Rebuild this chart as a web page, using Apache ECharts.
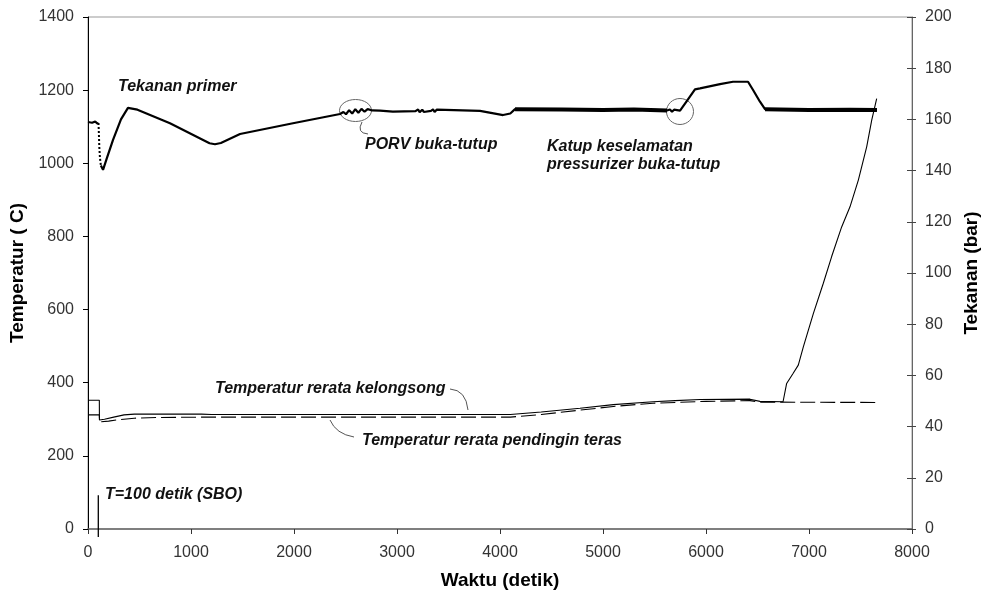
<!DOCTYPE html>
<html><head><meta charset="utf-8">
<script src="https://cdn.jsdelivr.net/npm/echarts@6/dist/echarts.min.js"></script>
<style>html,body{margin:0;padding:0;background:#fff}#c{width:982px;height:592px}</style>
</head><body><div id="c"></div>
<script>
// ---- data (time in s, temperature in °C, pressure in bar) ----
const timeRange = [0, 8000];
const tempRange = [0, 1400];
const pressureRange = [0, 200];

const pressureStart = [[0,159.0],[40,158.7],[70,159.2],[90,158.4],[102,158.6]];
const pressureDrop = [[102,158.6],[106,154],[110,149],[116,145],[125,142]];
const pressurePrimary = [[125,142],[146,140.3],[180,144.5],[243,152],[320,160],[388,164.5],[480,163.8],[796,158.5],[1180,150.7],[1233,150.3],[1290,150.8],[1476,154.3],[1990,158.5],[2447,162.1],[2480,162.9],[2505,162.0],[2535,163.6],[2565,162.3],[2595,164.0],[2625,162.6],[2655,164.1],[2685,163.0],[2715,164.0],[2760,163.5],[2835,163.4],[2960,163.0],[3180,163.2],[3205,163.9],[3220,162.8],[3245,163.8],[3260,162.9],[3330,163.3],[3350,163.9],[3365,162.9],[3385,163.8],[3400,163.2],[3806,163.3],[4030,161.7],[4100,162.3],[4146,164.0],[4600,163.9],[5000,163.7],[5300,163.9],[5621,163.5],[5650,163.9],[5670,163.0],[5690,163.8],[5748,163.4],[5820,167.5],[5893,171.7],[5942,172.1],[6136,173.8],[6262,174.7],[6408,174.7],[6457,171.5],[6524,166.9],[6573,164.0],[7000,163.7],[7400,163.8],[7660,163.7]];
const pressureNoisyA = [[4146,164.0],[4600,163.9],[5000,163.7],[5300,163.9],[5621,163.5]];
const pressureNoisyB = [[6573,164.0],[7000,163.7],[7400,163.8],[7660,163.7]];

const claddingTemp = [[0,352],[110,352],[111,298],[160,300],[250,306],[350,312],[450,314],[1100,314],[1200,313],[4100,313],[4400,320],[4777,330],[5100,340],[5486,348],[5700,351],[5942,354],[6427,355],[6524,349],[6748,348],[6783,398],[6845,425],[6896,448],[6945,498],[7042,589],[7139,672],[7220,745],[7317,826],[7398,881],[7479,954],[7560,1045],[7609,1118],[7657,1177]];
const coolantTemp = [[0,312],[110,312],[112,293],[200,295],[300,299],[450,303],[700,305],[1200,306],[4100,306],[4400,313],[4777,325],[5100,335],[5486,344],[6000,349],[6427,351],[6524,347],[7660,346]];
const sboMarker = [[100,-22],[100,92]];

const xTickStep = 1000, tempTickStep = 200, pressureTickStep = 20;

// ---- chart ----
const FONT = '"Liberation Sans", Arial, sans-serif';
const chart = echarts.init(document.getElementById('c'), null, {renderer:'canvas'});
const annFont = 'italic bold 16px ' + FONT;
const plain = v => String(v);

const lineSeries = (data, opts) => Object.assign({
  type:'line', data, symbol:'none', showSymbol:false, animation:false, silent:true,
  lineStyle:{color:'#000', width:1}
}, opts);

chart.setOption({
  backgroundColor:'#fff',
  animation:false,
  grid:{left:88, right:70, top:17, bottom:63, show:true, borderColor:'#999', borderWidth:1,
        containLabel:false, outerBoundsMode:'none'},
  xAxis:{
    type:'value', min:timeRange[0], max:timeRange[1], interval:xTickStep,
    name:'Waktu (detik)', nameLocation:'middle', nameGap:42,
    nameTextStyle:{fontFamily:FONT, fontWeight:'bold', fontSize:19, color:'#000'},
    axisLine:{show:true, lineStyle:{color:'#666', width:1.5}},
    axisTick:{show:true, length:5, lineStyle:{color:'#333'}},
    axisLabel:{fontFamily:FONT, fontSize:16, color:'#333', margin:16, formatter:plain},
    splitLine:{show:false}
  },
  yAxis:[{
    type:'value', min:tempRange[0], max:tempRange[1], interval:tempTickStep, position:'left',
    name:'Temperatur ( C)', nameLocation:'middle', nameGap:60, nameRotate:90,
    nameTextStyle:{fontFamily:FONT, fontWeight:'bold', fontSize:19, color:'#000'},
    axisLine:{show:true, lineStyle:{color:'#000', width:1}},
    axisTick:{show:true, length:5, lineStyle:{color:'#000'}},
    axisLabel:{fontFamily:FONT, fontSize:16, color:'#333', margin:14, formatter:plain},
    splitLine:{show:false}
  },{
    type:'value', min:pressureRange[0], max:pressureRange[1], interval:pressureTickStep, position:'right',
    name:'Tekanan (bar)', nameLocation:'middle', nameGap:47, nameRotate:90,
    nameTextStyle:{fontFamily:FONT, fontWeight:'bold', fontSize:19, color:'#000'},
    axisLine:{show:true, lineStyle:{color:'#666', width:1}},
    axisTick:{show:true, length:4, lineStyle:{color:'#444'}},
    axisLabel:{fontFamily:FONT, fontSize:16, color:'#333', margin:13, formatter:plain},
    splitLine:{show:false}
  },{
    type:'value', min:pressureRange[0], max:pressureRange[1], interval:pressureTickStep, position:'right',
    axisLine:{show:false}, axisLabel:{show:false},
    axisTick:{show:true, inside:true, length:5, lineStyle:{color:'#444'}},
    splitLine:{show:false}
  }],
  series:[
    lineSeries(coolantTemp, {name:'Temperatur rerata pendingin teras', yAxisIndex:0, lineStyle:{color:'#000', width:1.1, type:[15,5]}}),
    lineSeries(claddingTemp, {name:'Temperatur rerata kelongsong', yAxisIndex:0, lineStyle:{color:'#000', width:1.1}}),
    lineSeries(pressureStart, {name:'Tekanan primer', yAxisIndex:1, lineStyle:{color:'#000', width:2.2}}),
    lineSeries(pressureDrop, {name:'Tekanan primer', yAxisIndex:1, lineStyle:{color:'#000', width:2, type:[2,2]}}),
    lineSeries(pressurePrimary, {name:'Tekanan primer', yAxisIndex:1, lineStyle:{color:'#000', width:2.2}}),
    lineSeries(pressureNoisyA, {name:'Tekanan primer', yAxisIndex:1, lineStyle:{color:'#000', width:4}}),
    lineSeries(pressureNoisyB, {name:'Tekanan primer', yAxisIndex:1, lineStyle:{color:'#000', width:4}}),
    lineSeries(sboMarker, {name:'SBO', yAxisIndex:0, clip:false, lineStyle:{color:'#000', width:1.3}})
  ]
});

// ---- annotations (pixel layout) ----
const txt = (x, y, s) => ({type:'text', x, y, silent:true,
  style:{text:s, font:annFont, fill:'#111', verticalAlign:'middle', align:'left'}});
const curve = (x1,y1,cx,cy,x2,y2) => ({type:'bezierCurve', silent:true,
  shape:{x1,y1,x2,y2,cpx1:cx,cpy1:cy}, style:{stroke:'#555', fill:null, lineWidth:1}});
const ell = (cx,cy,rx,ry) => ({type:'ellipse', silent:true,
  shape:{cx,cy,rx,ry}, style:{stroke:'#666', fill:null, lineWidth:1}});

chart.setOption({graphic:[
  txt(118, 87, 'Tekanan primer'),
  ell(355.5, 110.5, 16, 11),
  curve(362,122, 356,133, 368,134),
  txt(365, 145, 'PORV buka-tutup'),
  ell(680, 111.5, 13.5, 13),
  txt(547, 147, 'Katup keselamatan'),
  txt(547, 165, 'pressurizer buka-tutup'),
  txt(215, 389, 'Temperatur rerata kelongsong'),
  curve(450,389, 466,390, 468,410),
  txt(362, 441, 'Temperatur rerata pendingin teras'),
  curve(330,420, 336,434, 354,437),
  txt(105, 495, 'T=100 detik (SBO)')
]});
</script>
</body></html>
